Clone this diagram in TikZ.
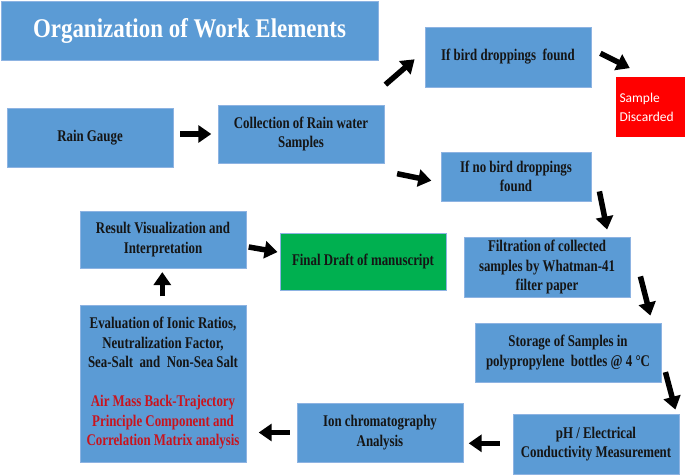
\documentclass[tikz,border=0pt]{standalone}
\usepackage{fontspec}
\setmainfont{Liberation Serif}[FakeStretch=0.85]
\newfontfamily\boxfont{Liberation Serif}[FakeStretch=0.79]
\newfontfamily\discfont{Carlito}
\usetikzlibrary{arrows.meta,calc}
\definecolor{boxblue}{HTML}{5B9BD5}
\definecolor{boxedge}{HTML}{8DB3E2}
\definecolor{boxgreen}{HTML}{00B050}
\definecolor{boxred}{HTML}{FF0000}
\definecolor{evalred}{HTML}{C8141E}
\definecolor{txt}{HTML}{151515}
\begin{document}
\begin{tikzpicture}[x=1pt,y=-1pt,
  bluebox/.style={draw=boxedge,line width=0.8pt,fill=boxblue,inner sep=0pt,
    align=center,text=txt,font=\boxfont\fontsize{16.3}{19.5}\selectfont\bfseries},
  greenbox/.style={bluebox,fill=boxgreen},
  arr/.style={line width=5.5pt,-{Triangle[length=13pt,width=17pt]},black}]
\useasboundingbox (0,0) rectangle (685,475);
% nodes
\node[bluebox,minimum width=377pt,minimum height=59pt,text=white,
  font=\rmfamily\fontsize{27}{30}\selectfont\bfseries] (title) at (189.5,30.5) {Organization of Work Elements};
\node[bluebox,minimum width=166pt,minimum height=60pt] (bird) at (508,57) {If bird droppings\ \ found};
\node[fill=boxred,minimum width=69pt,minimum height=60pt,inner xsep=3.5pt,inner ysep=0pt,
  text width=62pt,align=left,text=white,font=\discfont\fontsize{13.5}{19}\selectfont] (disc) at (650.5,107) {Sample\\Discarded};
\node[bluebox,minimum width=166pt,minimum height=59pt] (rain) at (90,137.5) {Rain Gauge};
\node[bluebox,minimum width=166pt,minimum height=58pt] (coll) at (301,134) {Collection of Rain water\\Samples};
\node[bluebox,minimum width=150pt,minimum height=49pt] (nobird) at (516,176.5) {If no bird droppings\\found};
\node[bluebox,minimum width=166pt,minimum height=60pt] (filt) at (547,267) {Filtration of collected\\samples by Whatman-41\\filter paper};
\node[bluebox,minimum width=166pt,minimum height=57pt] (result) at (163,239.5) {Result Visualization and\\Interpretation};
\node[greenbox,minimum width=166pt,minimum height=57pt] (final) at (363,261.5) {Final Draft of manuscript};
\node[bluebox,minimum width=166pt,minimum height=157pt] (eval) at (163,383.5) {Evaluation of Ionic Ratios,\\Neutralization Factor,\\Sea-Salt\ \ and\ \ Non-Sea Salt\\[19.5pt]
  \textcolor{evalred}{Air Mass Back-Trajectory}\\\textcolor{evalred}{Principle Component\ and}\\\textcolor{evalred}{Correlation Matrix analysis}};
\node[bluebox,minimum width=186pt,minimum height=59pt] (stor) at (568,352.5) {Storage of Samples in\\polypropylene\ \ bottles @ 4 °C};
\node[bluebox,minimum width=166pt,minimum height=60pt] (ph) at (596,444) {pH / Electrical\\Conductivity Measurement};
\node[bluebox,minimum width=166pt,minimum height=59pt] (ion) at (380,432.5) {Ion chromatography\\Analysis};
% arrows
\draw[arr] ($(rain.east)+(7,-3.5)$) -- ($(coll.west)+(-6.3,0)$);
\draw[arr] ($(coll.north east)+(1,-20)$) -- ($(bird.west)+(-10,2.3)$);
\draw[arr] ($(bird.east)+(9,-3.7)$) -- ($(disc.north west)+(14,-8.7)$);
\draw[arr] ($(coll.south east)+(12.7,10.3)$) -- ($(nobird.west)+(-9.3,4.2)$);
\draw[arr] ($(nobird.south east)+(8,-10)$) -- ($(filt.north east)+(-23.3,-7)$);
\draw[arr] ($(filt.south east)+(10,-21)$) -- ($(stor.north east)+(-11,-7)$);
\draw[arr] ($(stor.south east)+(4,-10.3)$) -- ($(ph.north east)+(-4,-4)$);
\draw[arr] ($(ph.west)+(-13,-0.7)$) -- ($(ion.east)+(5.3,10.8)$);
\draw[arr] ($(ion.west)+(-7,0)$) -- ($(eval.east)+(12.3,49)$);
\draw[arr] ($(eval.north)+(-0.7,-8.3)$) -- ($(result.south)+(-0.7,3.7)$);
\draw[arr] ($(result.east)+(2.3,7.5)$) -- ($(final.west)+(-2,-9.5)$);
\end{tikzpicture}
\end{document}
